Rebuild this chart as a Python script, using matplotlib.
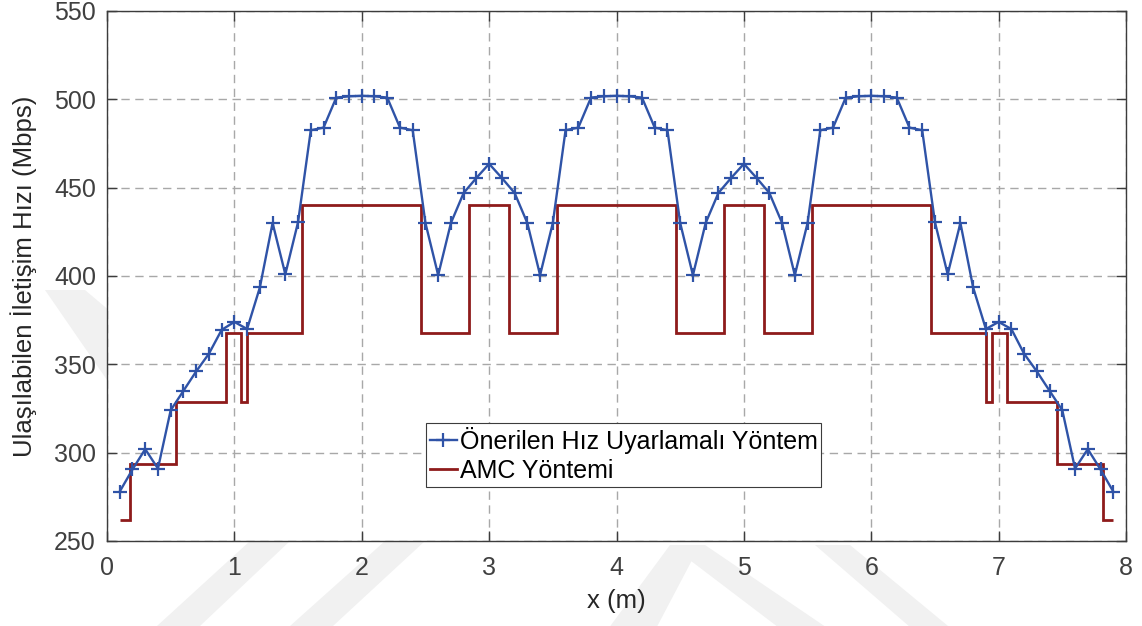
import numpy as np
import matplotlib.pyplot as plt
from matplotlib.patches import Polygon

plt.rcParams['font.family'] = ['Liberation Sans', 'DejaVu Sans']

# Önerilen hız uyarlamalı yöntem: 0.1 m aralıklarla ölçülen hız (Mbps)
x_onerilen = np.round(np.arange(1, 80) * 0.1, 1)
hiz_onerilen = [
    278.0, 290.5, 302.0, 291.0, 324.0, 335.0, 346.0, 356.0, 369.5, 374.0,
    370.0, 393.5, 430.0, 401.0, 430.5, 482.5, 484.0, 501.0, 501.7, 502.0,
    501.7, 501.0, 484.0, 482.5, 430.0, 400.5, 430.0, 447.0, 455.5, 463.5,
    455.5, 447.0, 430.0, 400.5, 430.0, 482.5, 484.0, 501.0, 501.7, 502.0,
    501.7, 501.0, 484.0, 482.5, 430.0, 400.5, 430.0, 447.0, 455.5, 463.5,
    455.5, 447.0, 430.0, 400.5, 430.0, 482.5, 484.0, 501.0, 501.7, 502.0,
    501.7, 501.0, 484.0, 482.5, 430.5, 401.0, 430.0, 393.5, 370.0, 374.0,
    370.0, 356.0, 346.0, 335.0, 324.0, 291.0, 302.0, 290.5, 278.0,
]

# AMC yöntemi: basamak sınırları (m) ve her aralıktaki hız (Mbps)
amc_sinirlar = [0.1, 0.18, 0.54, 0.935, 1.05, 1.10, 1.53, 2.465, 2.845,
                3.155, 3.535, 4.465, 4.845, 5.155, 5.535, 6.47, 6.90, 6.95,
                7.065, 7.46, 7.82, 7.9]
amc_hiz = [262.0, 293.5, 328.5, 368.0, 328.5, 368.0, 440.0, 368.0, 440.0,
           368.0, 440.0, 368.0, 440.0, 368.0, 440.0, 368.0, 328.5, 368.0,
           328.5, 293.5, 262.0]

fig = plt.figure(figsize=(11.42, 6.26), dpi=100)

# soluk arka plan filigranı (şekil koordinatlarında, piksel)
filigran = [
    [(45, 290), (85, 290), (150, 345), (150, 395), (107, 380)],
    [(157, 626), (200, 626), (290, 541), (250, 541)],
    [(290, 626), (333, 626), (425, 541), (385, 541)],
    [(600, 640), (650, 640), (700, 545), (670, 545)],
    [(670, 545), (705, 545), (845, 640), (795, 640)],
    [(815, 545), (850, 545), (965, 640), (925, 640)],
]
for p in filigran:
    pts = [(px / 1142, 1 - py / 626) for px, py in p]
    fig.patches.append(Polygon(pts, closed=True, transform=fig.transFigure,
                               facecolor='#f1f1f1', edgecolor='none',
                               zorder=-5))

ax = fig.add_axes([107 / 1142, 1 - 541 / 626, 1019 / 1142, 530 / 626])

ax.plot(x_onerilen, hiz_onerilen, color='#2f53a7', linewidth=1.7,
        marker='+', markersize=10, markeredgewidth=1.6,
        label='Önerilen Hız Uyarlamalı Yöntem', zorder=3)
ax.stairs(amc_hiz, amc_sinirlar, baseline=None, color='#8e1b1b',
          linewidth=2.0, label='AMC Yöntemi', zorder=2)

ax.set_xlim(0, 8)
ax.set_ylim(250, 550)
ax.set_xticks(range(0, 9))
ax.set_yticks(range(250, 551, 50))

ax.grid(True, color='#a8a8a8', linestyle=(0, (6, 4)), linewidth=1.0)
ax.set_axisbelow(True)
for s in ax.spines.values():
    s.set_color('#3c3c3c')
    s.set_linewidth(1.0)
ax.tick_params(direction='in', length=7, width=1.0, top=True, right=True,
               labelsize=18, colors='#3c3c3c', labelcolor='#404040', pad=8)
ax.tick_params(axis='x', pad=11)

ax.set_xlabel('x (m)', fontsize=18.5, color='#262626', labelpad=6)
ax.set_ylabel('Ulaşılabilen İletişim Hızı (Mbps)', fontsize=18.5,
              color='#262626', labelpad=12)

leg = ax.legend(loc='lower left', bbox_to_anchor=(0.313, 0.102),
                fontsize=18, frameon=True, fancybox=False, framealpha=1,
                borderpad=0.15, labelspacing=0.2, handlelength=1.1,
                handletextpad=0.1, borderaxespad=0)
leg.get_frame().set_edgecolor('#3c3c3c')
leg.get_frame().set_linewidth(0.8)

fig.savefig('out.png', dpi=100)
